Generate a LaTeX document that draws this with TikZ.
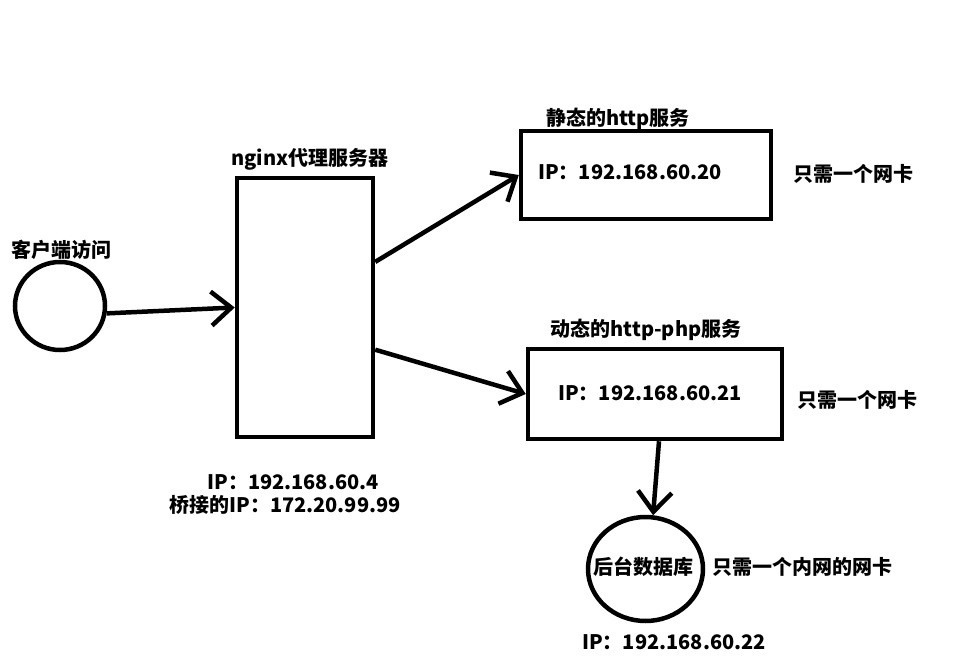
\documentclass[tikz,border=0pt]{standalone}
\usepackage{fontspec}
\setmainfont{Noto Sans CJK SC}
\usetikzlibrary{arrows.meta,shapes.geometric}
\tikzset{
  box/.style={draw, line width=4.5pt, rectangle, inner sep=0pt},
  ring/.style={draw, line width=4.5pt, ellipse, inner sep=0pt},
  lbl/.style={inner sep=0pt, font=\fontsize{20pt}{22pt}\selectfont\bfseries, text height=16pt, text depth=1pt},
  conn/.style={line width=4.5pt, -{Straight Barb[length=20pt,width=34pt]}}
}
\begin{document}
\begin{tikzpicture}[x=1pt,y=-1pt]
\useasboundingbox (0,0) rectangle (974,660);
% shapes
\node[ring, minimum width=90pt, minimum height=88pt] (client) at (60,306) {};
\node[box, minimum width=136pt, minimum height=259pt] (nginx) at (305,307.5) {};
\node[box, minimum width=250pt, minimum height=88pt] (static) at (646,175) {};
\node[box, minimum width=254pt, minimum height=90pt] (dynamic) at (655,394) {};
\node[ring, minimum width=115pt, minimum height=104pt] (db) at (645.5,569) {};
% labels
\node[lbl] (tclient) at (61,250) {客户端访问};
\node[lbl] (tnginx) at (310,158) {nginx代理服务器};
\node[lbl] (tstatic) at (618,118) {静态的http服务};
\node[lbl, anchor=west] (ipstatic) at (538,172) {IP：192.168.60.20};
\node[lbl, anchor=west] (nic1) at (793,174) {只需一个网卡};
\node[lbl] (tdynamic) at (646,329) {动态的http-php服务};
\node[lbl, anchor=west] (ipdynamic) at (558,393) {IP：192.168.60.21};
\node[lbl, anchor=west] (nic2) at (797,400) {只需一个网卡};
\node[lbl] (ipnginx) at (293,482) {IP：192.168.60.4};
\node[lbl] (bridge) at (285,505) {桥接的IP：172.20.99.99};
\node[lbl] (tdb) at (643,567) {后台数据库};
\node[lbl, anchor=west] (nic3) at (712,567) {只需一个内网的网卡};
\node[lbl, anchor=west] (ipdb) at (582,642) {IP：192.168.60.22};
% connectors
\draw[conn] (client.-9) -- (nginx.west);
\draw[conn] (nginx.33) -- (static.west);
\draw[conn] (nginx.-31) -- (dynamic.west);
\draw[conn] ([xshift=4pt]dynamic.south) -- (db.82);
\end{tikzpicture}
\end{document}
